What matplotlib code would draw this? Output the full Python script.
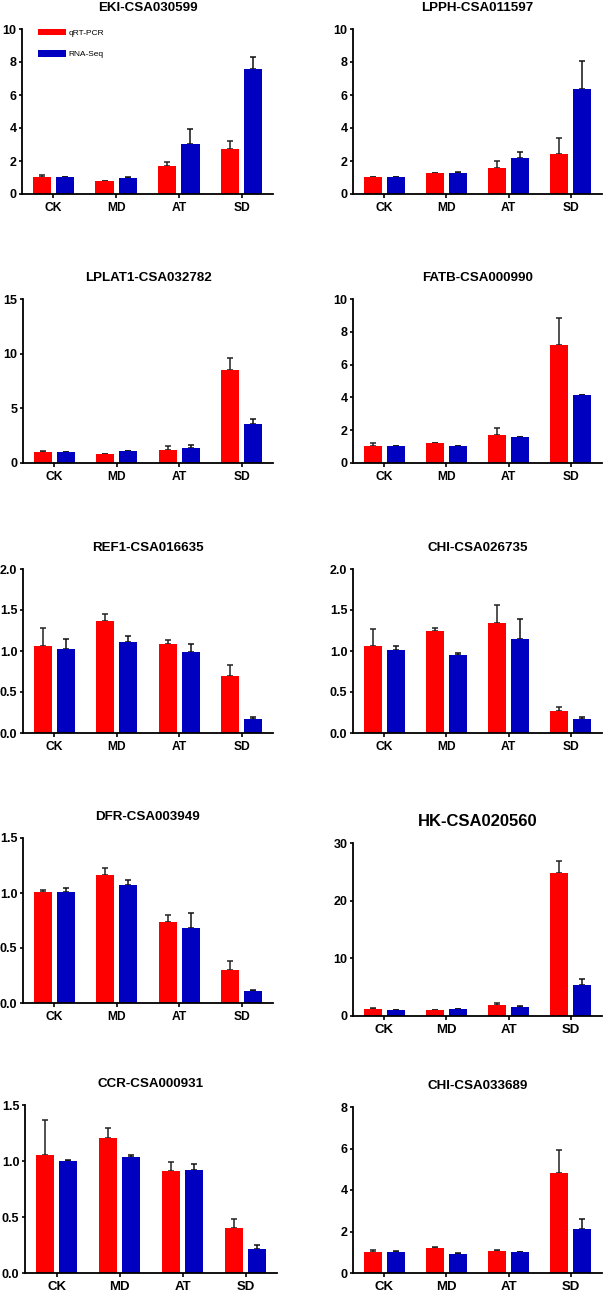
import numpy as np
import matplotlib.pyplot as plt
import matplotlib as mpl

mpl.rcParams['font.family'] = ['Liberation Sans', 'DejaVu Sans']
mpl.rcParams['font.weight'] = 'bold'

W, H = 615, 1291

groups = ['CK', 'MD', 'AT', 'SD']
genes = ['EKI-CSA030599', 'LPPH-CSA011597', 'LPLAT1-CSA032782', 'FATB-CSA000990',
         'REF1-CSA016635', 'CHI-CSA026735', 'DFR-CSA003949', 'HK-CSA020560',
         'CCR-CSA000931', 'CHI-CSA033689']

# qRT-PCR means / upper error
qpcr = [[1.03, 0.77, 1.68, 2.71],
        [1.03, 1.25, 1.58, 2.42],
        [1.03, 0.82, 1.16, 8.52],
        [1.05, 1.22, 1.68, 7.18],
        [1.066, 1.366, 1.086, 0.697],
        [1.057, 1.24, 1.345, 0.268],
        [1.006, 1.167, 0.733, 0.30],
        [1.2, 1.05, 1.85, 24.75],
        [1.055, 1.205, 0.909, 0.403],
        [1.016, 1.21, 1.05, 4.84]]
qpcr_err = [[0.14, 0.02, 0.24, 0.48],
            [0.02, 0.02, 0.42, 0.99],
            [0.10, 0.02, 0.40, 1.12],
            [0.19, 0.02, 0.47, 1.64],
            [0.22, 0.09, 0.05, 0.13],
            [0.215, 0.036, 0.22, 0.05],
            [0.02, 0.06, 0.067, 0.085],
            [0.15, 0.05, 0.35, 2.15],
            [0.315, 0.09, 0.083, 0.075],
            [0.11, 0.03, 0.08, 1.08]]

# RNA-Seq means / upper error
rnaseq = [[1.03, 0.97, 3.03, 7.60],
          [1.03, 1.25, 2.20, 6.38],
          [1.00, 1.10, 1.40, 3.59],
          [1.01, 1.03, 1.58, 4.14],
          [1.026, 1.115, 0.988, 0.17],
          [1.008, 0.947, 1.15, 0.17],
          [1.006, 1.073, 0.685, 0.112],
          [1.0, 1.2, 1.6, 5.3],
          [1.004, 1.038, 0.924, 0.215],
          [1.03, 0.935, 1.0, 2.13]]
rnaseq_err = [[0.02, 0.08, 0.89, 0.72],
              [0.02, 0.10, 0.35, 1.70],
              [0.03, 0.02, 0.24, 0.46],
              [0.02, 0.02, 0.03, 0.03],
              [0.12, 0.065, 0.10, 0.03],
              [0.05, 0.03, 0.235, 0.03],
              [0.036, 0.045, 0.13, 0.01],
              [0.05, 0.05, 0.15, 1.1],
              [0.006, 0.012, 0.045, 0.035],
              [0.05, 0.01, 0.03, 0.45]]

ytop = [10, 10, 15, 10, 2.0, 2.0, 1.5, 30, 1.5, 8]
ystep = [2, 2, 5, 2, 0.5, 0.5, 0.5, 10, 0.5, 2]

# axes boxes in pixels: x0, x1, y0(top), y1(bottom)
boxes = [(22, 273, 29, 194), (353, 602, 29, 194),
         (23, 273, 299, 463), (353, 602, 299, 463),
         (23, 273, 569, 733), (353, 602, 569, 733),
         (23, 273, 838, 1003), (353, 602, 843, 1016),
         (25, 277, 1105, 1273), (353, 602, 1107, 1273)]

red = '#ff0000'
blue = '#0000c0'
w = 0.29
off = 0.185

fig = plt.figure(figsize=(W / 100, H / 100), dpi=100)

for i, g in enumerate(genes):
    x0, x1, y0, y1 = boxes[i]
    ax = fig.add_axes([x0 / W, 1 - y1 / H, (x1 - x0) / W, (y1 - y0) / H])
    x = np.arange(len(groups))
    b1 = ax.bar(x - off, qpcr[i], w, color=red, zorder=2, label='qRT-PCR')
    b2 = ax.bar(x + off, rnaseq[i], w, color=blue, zorder=2, label='RNA-Seq')
    ax.errorbar(x - off, qpcr[i], yerr=[np.zeros(4), qpcr_err[i]], fmt='none',
                ecolor='#222222', elinewidth=1.1, capsize=2.3, capthick=1.1, zorder=1)
    ax.errorbar(x + off, rnaseq[i], yerr=[np.zeros(4), rnaseq_err[i]], fmt='none',
                ecolor='#111111', elinewidth=1.1, capsize=2.3, capthick=1.1, zorder=1)

    ax.set_xlim(-0.5, 3.5)
    ax.set_ylim(0, ytop[i])
    ticks = np.arange(0, ytop[i] + ystep[i] / 2, ystep[i])
    ax.set_yticks(ticks)
    if ystep[i] < 1:
        ax.set_yticklabels(['%.1f' % t for t in ticks])
    else:
        ax.set_yticklabels(['%d' % t for t in ticks])
    ax.set_xticks(x)
    big = i >= 7
    ax.set_xticklabels(groups, fontsize=9.5 if big else 8.7, fontweight='bold')
    ax.tick_params(axis='y', labelsize=9, length=2.5, width=1.2, pad=1.5)
    ax.tick_params(axis='x', length=3, width=1.2, pad=3)
    for s in ['top', 'right']:
        ax.spines[s].set_visible(False)
    for s in ['left', 'bottom']:
        ax.spines[s].set_linewidth(1.3)

    if i == 7:
        ax.set_title(g, fontsize=12, fontweight='bold', pad=12)
    else:
        ax.set_title(g, fontsize=9.6, fontweight='bold', pad=13)

    if i == 0:
        ax.legend(handles=[b1, b2], loc='upper left', bbox_to_anchor=(0.065, 1.0),
                  frameon=False, prop={'size': 6, 'weight': 'normal'},
                  handlelength=3.3, handleheight=0.8, handletextpad=0.3,
                  labelspacing=1.6, borderpad=0, borderaxespad=0)

fig.savefig('out.png', dpi=100)
